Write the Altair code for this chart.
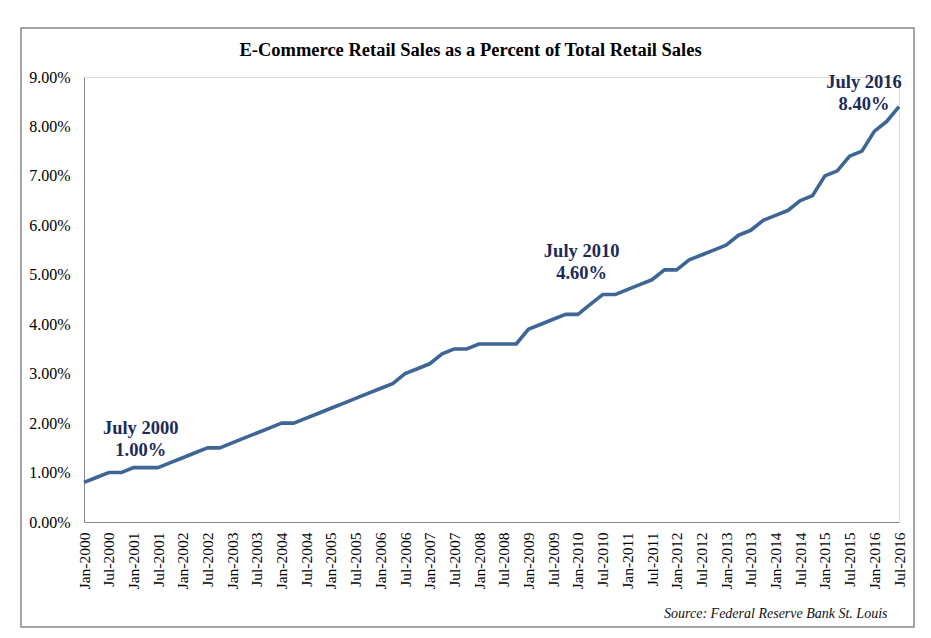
import altair as alt
import pandas as pd

# ---- data (quarterly, % of total retail sales) ----
years = [2000, 2001, 2002, 2003, 2004, 2005, 2006, 2007, 2008,
         2009, 2010, 2011, 2012, 2013, 2014, 2015, 2016]
months = ["Jan", "Apr", "Jul", "Oct"]
ecommerce_pct = [
    0.8, 0.9, 1.0, 1.0,
    1.1, 1.1, 1.1, 1.2,
    1.3, 1.4, 1.5, 1.5,
    1.6, 1.7, 1.8, 1.9,
    2.0, 2.0, 2.1, 2.2,
    2.3, 2.4, 2.5, 2.6,
    2.7, 2.8, 3.0, 3.1,
    3.2, 3.4, 3.5, 3.5,
    3.6, 3.6, 3.6, 3.6,
    3.9, 4.0, 4.1, 4.2,
    4.2, 4.4, 4.6, 4.6,
    4.7, 4.8, 4.9, 5.1,
    5.1, 5.3, 5.4, 5.5,
    5.6, 5.8, 5.9, 6.1,
    6.2, 6.3, 6.5, 6.6,
    7.0, 7.1, 7.4, 7.5,
    7.9, 8.1, 8.4,
]
quarters = [f"{m}-{y}" for y in years for m in months][: len(ecommerce_pct)]
tick_labels = [f"{m}-{y}" for y in years for m in ["Jan", "Jul"]]
y_ticks = [0, 1, 2, 3, 4, 5, 6, 7, 8, 9]

ann_quarters = ["Jul-2000", "Jul-2010", "Jul-2016"]
ann_values = [1.0, 4.6, 8.4]
ann_texts = ["July 2000\n1.00%", "July 2010\n4.60%", "July 2016\n8.40%"]

title_text = "E-Commerce Retail Sales as a Percent of Total Retail Sales"
source_text = "Source: Federal Reserve Bank St. Louis"

df = pd.DataFrame({"quarter": quarters, "pct": ecommerce_pct})
ann = pd.DataFrame({"quarter": ann_quarters, "pct": ann_values, "label": ann_texts})

SERIF = "Liberation Serif"
NAVY = "#1c2a5a"
LINE = "#3d6596"
GRAY = "#878787"

x_enc = alt.X(
    "quarter:O",
    sort=quarters,
    scale=alt.Scale(type="point", padding=0, domain=quarters),
    axis=alt.Axis(
        values=tick_labels,
        labelAngle=-90,
        labelFont=SERIF,
        labelFontSize=15.5,
        labelColor="#000000",
        labelPadding=10,
        ticks=False,
        tickSize=0,
        domainColor=GRAY,
        domainWidth=1,
        grid=False,
        title=source_text,
        titleFont=SERIF,
        titleFontSize=14,
        titleFontStyle="italic",
        titleFontWeight="normal",
        titleColor="#111111",
        titleAlign="right",
        titleAnchor="end",
        titleBaseline="middle",
        titleX=803,
        titleY=91,
    ),
)
y_enc = alt.Y(
    "pct:Q",
    scale=alt.Scale(domain=[0, 9], nice=False, zero=True),
    axis=alt.Axis(
        values=y_ticks,
        labelExpr="format(datum.value, '.2f') + '%'",
        labelFont=SERIF,
        labelFontSize=16,
        labelColor="#000000",
        labelPadding=14,
        ticks=False,
        tickSize=0,
        domainColor=GRAY,
        domainWidth=1,
        grid=False,
        title=None,
    ),
)

line = alt.Chart(df).mark_line(color=LINE, strokeWidth=3.6, strokeJoin="round").encode(
    x=x_enc, y=y_enc
)

ann_base = alt.Chart(ann).encode(x=alt.X("quarter:O", sort=quarters), y="pct:Q", text="label:N")
ann_common = dict(font=SERIF, fontSize=18.5, fontWeight="bold", color=NAVY,
                  lineBreak="\n", lineHeight=22, align="center", baseline="middle")
a1 = ann_base.transform_filter(alt.datum.quarter == "Jul-2000").mark_text(dx=32, dy=-45, **ann_common)
a2 = ann_base.transform_filter(alt.datum.quarter == "Jul-2010").mark_text(dx=-21, dy=-44, **ann_common)
a3 = ann_base.transform_filter(alt.datum.quarter == "Jul-2016").mark_text(dx=-35, dy=-25, **ann_common)

frame = alt.Chart(pd.DataFrame({"k": [0]})).mark_rect(
    fillOpacity=0, stroke=GRAY, strokeWidth=1.5, clip=False
).encode(x=alt.value(-63), x2=alt.value(830), y=alt.value(-49), y2=alt.value(550))

chart = (
    alt.layer(frame, line, a1, a2, a3)
    .properties(
        width=815,
        height=445,
        padding={"left": 76, "top": 69, "right": 24, "bottom": 106},
        autosize=alt.AutoSizeParams(type="none"),
        title=alt.TitleParams(
            text=title_text,
            font=SERIF,
            fontSize=18.5,
            fontWeight="bold",
            color="#000000",
            anchor="middle",
            frame="group",
            dx=-21,
            dy=42,
            offset=10,
        ),
    )
    .configure_view(strokeWidth=0)
    .configure(background="#ffffff")
)

chart.save("out.html", embed_options={"renderer": "svg", "actions": False})
